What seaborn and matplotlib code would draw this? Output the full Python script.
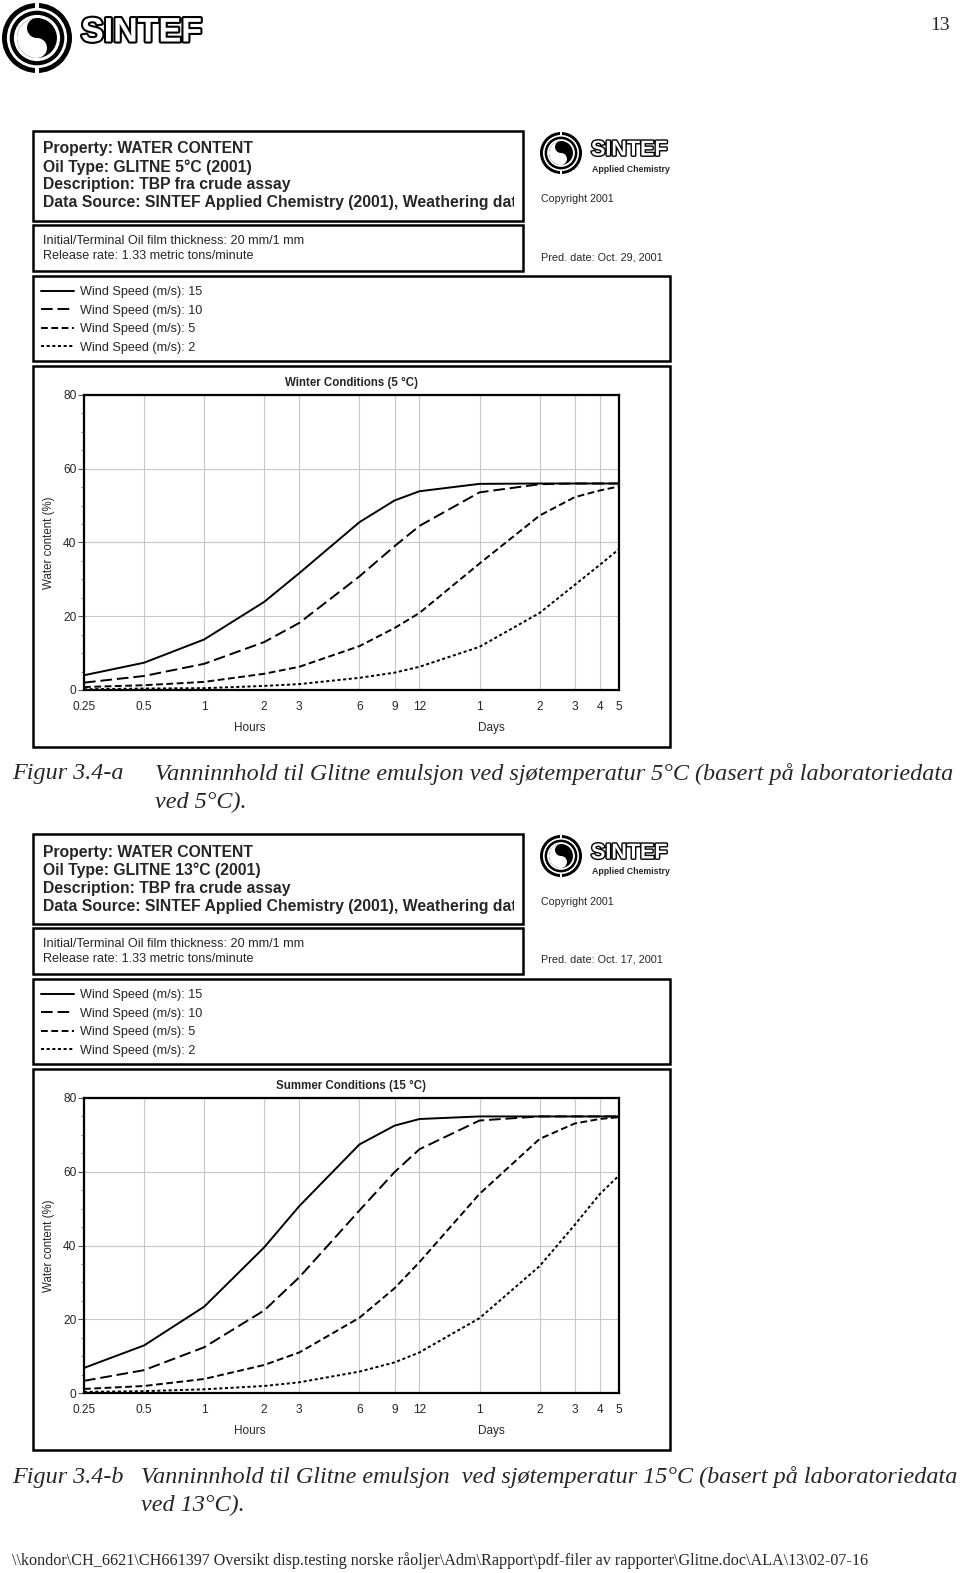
import matplotlib
matplotlib.use("Agg")
import matplotlib.pyplot as plt
import matplotlib.patheffects as pe
from matplotlib.patches import Rectangle, Circle, Wedge
from matplotlib.ticker import MultipleLocator, NullLocator
import seaborn as sns

# time axis (hours) and its labels: hours up to 12, then days
hours = [0.25, 0.5, 1, 2, 3, 6, 9, 12, 24, 48, 72, 96, 120]
hour_labels = ['0.25', '0.5', '1', '2', '3', '6', '9', '12', '1', '2', '3', '4', '5']
wind_speeds = ['15', '10', '5', '2']

# water content (%) (5 C)
winter_15 = [4.0, 7.4, 13.7, 23.9, 31.7, 45.5, 51.4, 53.9, 55.9, 56.0, 56.0, 56.0, 56.0]
winter_10 = [2.0, 3.8, 7.1, 13.0, 18.2, 30.8, 39.0, 44.5, 53.6, 55.8, 56.0, 56.0, 56.0]
winter_5 = [0.8, 1.3, 2.2, 4.4, 6.3, 11.9, 16.8, 20.9, 34.3, 47.3, 52.3, 54.1, 55.2]
winter_2 = [0.2, 0.4, 0.5, 1.1, 1.6, 3.3, 4.7, 6.3, 11.7, 20.9, 28.5, 33.9, 38.2]

# water content (%) (15 C)
summer_15 = [6.8, 12.9, 23.4, 39.5, 50.7, 67.4, 72.5, 74.3, 75.0, 75.0, 75.0, 75.0, 75.0]
summer_10 = [3.3, 6.2, 12.4, 22.4, 31.4, 49.5, 59.9, 66.1, 73.9, 75.0, 75.0, 75.0, 75.0]
summer_5 = [1.1, 1.9, 3.8, 7.6, 11.0, 20.4, 28.4, 35.5, 54.0, 68.9, 73.1, 74.3, 74.8]
summer_2 = [0.3, 0.5, 1.0, 1.9, 2.9, 5.8, 8.3, 11.0, 20.3, 34.4, 45.6, 53.9, 59.0]

line_styles = {'15': '-', '10': (0, (6, 2.5)), '5': (0, (3.5, 1.8)), '2': (0, (1.6, 1.3))}

W, H = 960, 1573
sns.set_style("white")
SANS = ['Liberation Sans', 'DejaVu Sans']
NARROW = ['Liberation Sans Narrow', 'Liberation Sans', 'DejaVu Sans']
SERIF = ['Liberation Serif', 'DejaVu Serif']
plt.rcParams['font.family'] = SANS

fig = plt.figure(figsize=(W / 100, H / 100), dpi=100)
page = fig.add_axes([0, 0, 1, 1])
page.set_xlim(0, W)
page.set_ylim(H, 0)
page.axis('off')


def frame(x0, y0, x1, y1, lw=1.8):
    r = Rectangle((x0, y0), x1 - x0, y1 - y0, fill=False, ec='black', lw=lw)
    page.add_patch(r)
    return r


def logo(cx, cy, r, tx, ty, fs, stroke):
    # rough take on the SINTEF ring emblem
    for frac, col in [(1.0, 'black'), (0.86, 'white'), (0.78, 'black'),
                      (0.66, 'white'), (0.57, 'black')]:
        page.add_patch(Circle((cx, cy), r * frac, color=col, lw=0))
    page.add_patch(Wedge((cx, cy), r * 0.57, 90, 270, color='white', lw=0))
    page.add_patch(Circle((cx, cy - r * 0.285), r * 0.285, color='black', lw=0))
    page.add_patch(Circle((cx, cy + r * 0.285), r * 0.285, color='white', lw=0))
    page.add_patch(Rectangle((cx - r * 0.06, cy - r), r * 0.12, r * 0.2, color='white', lw=0))
    page.add_patch(Rectangle((cx - r * 0.06, cy + r * 0.8), r * 0.12, r * 0.2, color='white', lw=0))
    page.text(tx, ty, 'SINTEF', family=NARROW, fontsize=fs, fontweight='bold',
              color='white', va='center', ha='left',
              path_effects=[pe.withStroke(linewidth=stroke, foreground='black')])


def panel(dy, oil_type, pred_date, title, series, fig_no, cap_x, cap_lines):
    # header boxes
    frame(33, 131 + dy, 523, 221 + dy)
    clip = Rectangle((33, 131 + dy), 481, 90, transform=page.transData)
    head = ['Property: WATER CONTENT', f'Oil Type: {oil_type}',
            'Description: TBP fra crude assay',
            'Data Source: SINTEF Applied Chemistry (2001), Weathering data']
    for i, s in enumerate(head):
        t = page.text(43, 149 + dy + 18 * i, s, fontsize=11.3, fontweight='bold',
                      va='center', clip_on=True)
        t.set_clip_path(clip)
    frame(33, 225 + dy, 523, 271 + dy)
    page.text(43, 241 + dy, 'Initial/Terminal Oil film thickness: 20 mm/1 mm', fontsize=9.1, va='center')
    page.text(43, 256 + dy, 'Release rate: 1.33 metric tons/minute', fontsize=9.1, va='center')

    logo(561, 153 + dy, 21, 591, 150 + dy, 15.5, 2)
    page.text(592, 169 + dy, 'Applied Chemistry', fontsize=6.3, fontweight='bold', va='center')
    page.text(541, 199 + dy, 'Copyright 2001', fontsize=7.7, va='center')
    page.text(541, 257 + dy, f'Pred. date: {pred_date}', fontsize=7.8, va='center')

    frame(33, 276 + dy, 670, 361 + dy)
    frame(33, 366 + dy, 670, 747 + dy)

    ax = fig.add_axes([84 / W, 1 - (690 + dy) / H, (619 - 84) / W, (690 - 395) / H])
    for w, vals in zip(wind_speeds, series):
        sns.lineplot(x=hours, y=vals, ax=ax, color='black', lw=1.4,
                     linestyle=line_styles[w])
    ax.set_xscale('log', base=2)
    ax.set_xlim(0.25, 120)
    ax.set_xticks(hours, hour_labels)
    ax.xaxis.set_minor_locator(NullLocator())
    ax.set_ylim(0, 80)
    ax.set_yticks([0, 20, 40, 60, 80])
    ax.yaxis.set_minor_locator(MultipleLocator(5))
    ax.grid(True, which='major', color='#c8c8c8', lw=0.8)
    ax.set_axisbelow(True)
    for sp in ax.spines.values():
        sp.set_visible(True)
        sp.set_color('black')
        sp.set_linewidth(1.6)
    ax.tick_params(axis='x', length=0, pad=8, labelsize=8.6)
    ax.tick_params(axis='y', which='major', left=True, length=4, width=0.8,
                   color='#555', pad=1.5, labelsize=8.6)
    ax.tick_params(axis='y', which='minor', left=True, length=2.5, width=0.6, color='#777')
    ax.set_ylabel('Water content (%)', fontsize=8.3)
    ax.yaxis.set_label_coords(-0.055, 0.5)
    ax.set_title(title, fontsize=8.3, fontweight='bold', pad=6.5)

    page.text(250, 728 + dy, 'Hours', fontsize=8.5, ha='center', va='center')
    page.text(491, 728 + dy, 'Days', fontsize=8.5, ha='center', va='center')

    fig.legend(handles=ax.lines[:4], labels=[f'Wind Speed (m/s): {w}' for w in wind_speeds],
               loc='upper left', bbox_to_anchor=(41 / W, 1 - (286 + dy) / H),
               frameon=False, fontsize=9.1, handlelength=2.6, handletextpad=0.45,
               labelspacing=0.52, borderpad=0, borderaxespad=0)

    cap = dict(family=SERIF, style='italic', fontsize=17.4, va='center')
    page.text(12, 774 + dy, fig_no, **cap)
    page.text(cap_x, 774 + dy, cap_lines[0], **cap)
    page.text(cap_x, 802 + dy, cap_lines[1], **cap)


# page header
logo(37, 38, 35, 81, 33, 24.5, 3)
page.text(950, 26, '13', family=SERIF, fontsize=14, ha='right', va='center')

panel(0, 'GLITNE 5°C (2001)', 'Oct. 29, 2001', 'Winter Conditions (5 °C)',
      [winter_15, winter_10, winter_5, winter_2], 'Figur 3.4-a', 155,
      ['Vanninnhold til Glitne emulsjon ved sjøtemperatur 5°C (basert på laboratoriedata',
       'ved 5°C).'])
panel(703, 'GLITNE 13°C (2001)', 'Oct. 17, 2001', 'Summer Conditions (15 °C)',
      [summer_15, summer_10, summer_5, summer_2], 'Figur 3.4-b', 141,
      ['Vanninnhold til Glitne emulsjon  ved sjøtemperatur 15°C (basert på laboratoriedata',
       'ved 13°C).'])

page.text(12, 1561, r'\\kondor\CH_6621\CH661397 Oversikt disp.testing norske råoljer\Adm\Rapport\pdf-filer av rapporter\Glitne.doc\ALA\13\02-07-16',
          family=SERIF, fontsize=11.6, va='center')

fig.savefig('out.png', dpi=100)
